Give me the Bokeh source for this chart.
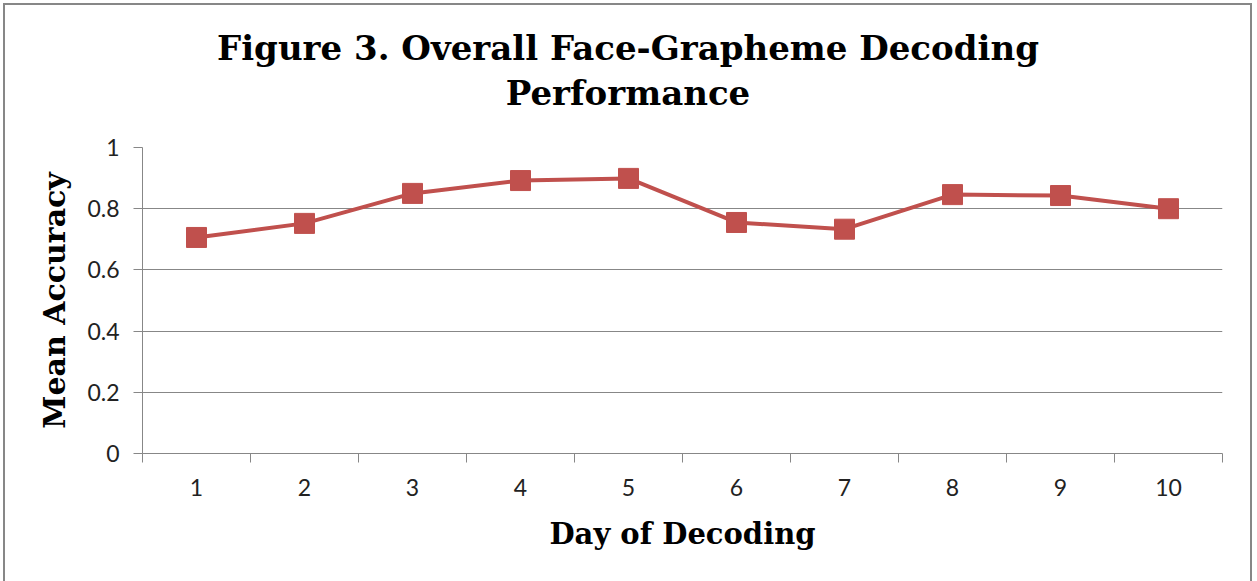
from bokeh.plotting import figure
from bokeh.layouts import column
from bokeh.models import Range1d, FixedTicker, CustomJSTickFormatter
from bokeh.core.properties import value
from bokeh.embed import file_html
from bokeh.resources import INLINE

# ---- data ----
days = [1, 2, 3, 4, 5, 6, 7, 8, 9, 10]
accuracy = [0.706, 0.752, 0.850, 0.892, 0.899, 0.755, 0.733, 0.846, 0.843, 0.800]
y_ticks = [0, 0.2, 0.4, 0.6, 0.8, 1.0]
title_lines = ["Figure 3. Overall Face-Grapheme Decoding", "Performance"]
x_title = "Day of Decoding"
y_title = "Mean Accuracy"

LINE = "#C0504D"
GRID = "#878787"
SERIF = "DejaVu Serif"
SANS = "Lato"
W = 1245
FL, FR = 137, 28  # left / right borders around the plotting frame
TH = 117          # height of the title strip
MH = 464          # height of the chart below it

# ---- title strip (its frame is aligned with the chart frame by the column layout) ----
t = figure(width=W, height=TH, output_backend="svg", toolbar_location=None,
           x_range=Range1d(FL, W - FR), y_range=Range1d(0, TH),
           min_border_left=FL, min_border_right=FR, min_border_top=0, min_border_bottom=0,
           x_axis_type=None, y_axis_type=None)
t.outline_line_color = None
t.grid.visible = False
t.text(x=[W / 2, W / 2], y=[TH - 42, TH - 87], text=title_lines,
       text_align="center", text_baseline="alphabetic",
       text_font=value(SERIF), text_font_style="bold", text_font_size="34px",
       text_color="black")

# ---- chart ----
p = figure(width=W, height=MH, output_backend="svg", toolbar_location=None,
           x_range=Range1d(0.5, 10.5), y_range=Range1d(0, 1.0),
           min_border_left=FL, min_border_right=FR, min_border_top=25, min_border_bottom=133)
p.outline_line_color = None
p.background_fill_color = "white"
p.border_fill_color = "white"

# x axis: labels at category centres, tick marks between categories
boundaries = [d - 0.5 for d in days] + [days[-1] + 0.5]
p.xaxis.ticker = FixedTicker(ticks=days, minor_ticks=boundaries)
p.xaxis.major_tick_out = 0
p.xaxis.major_tick_in = 0
p.xaxis.minor_tick_out = 9
p.xaxis.minor_tick_in = 0
p.xaxis.minor_tick_line_color = GRID
p.xaxis.axis_line_color = GRID
p.xaxis.major_label_text_font = SANS
p.xaxis.major_label_text_font_size = "23px"
p.xaxis.major_label_text_color = "#222222"
p.xaxis.major_label_standoff = 16
p.xaxis.axis_label = x_title
p.xaxis.axis_label_text_font = SERIF
p.xaxis.axis_label_text_font_style = "bold"
p.xaxis.axis_label_text_font_size = "29px"
p.xaxis.axis_label_text_color = "black"
p.xaxis.axis_label_standoff = 18
p.xgrid.grid_line_color = None

# y axis
p.yaxis.ticker = FixedTicker(ticks=y_ticks)
p.yaxis.formatter = CustomJSTickFormatter(code="return String(Math.round(tick*10)/10);")
p.yaxis.major_tick_out = 9
p.yaxis.major_tick_in = 0
p.yaxis.minor_tick_line_color = None
p.yaxis.major_tick_line_color = GRID
p.yaxis.axis_line_color = GRID
p.yaxis.major_label_text_font = SANS
p.yaxis.major_label_text_font_size = "23px"
p.yaxis.major_label_text_color = "#222222"
p.yaxis.major_label_standoff = 14
p.yaxis.axis_label = y_title
p.yaxis.axis_label_text_font = SERIF
p.yaxis.axis_label_text_font_style = "bold"
p.yaxis.axis_label_text_font_size = "30px"
p.yaxis.axis_label_text_color = "black"
p.yaxis.axis_label_standoff = 12
p.ygrid.grid_line_color = GRID
p.ygrid.grid_line_width = 1

# series
p.line(days, accuracy, line_color=LINE, line_width=4)
p.scatter(days, accuracy, marker="square", size=20, fill_color=LINE, line_color=LINE)

layout = column(t, p, spacing=0)
layout.styles = {"border": "2px solid #878787", "margin": "3px 0 0 3px", "background": "white"}

open("out.html", "w").write(file_html(layout, INLINE))
